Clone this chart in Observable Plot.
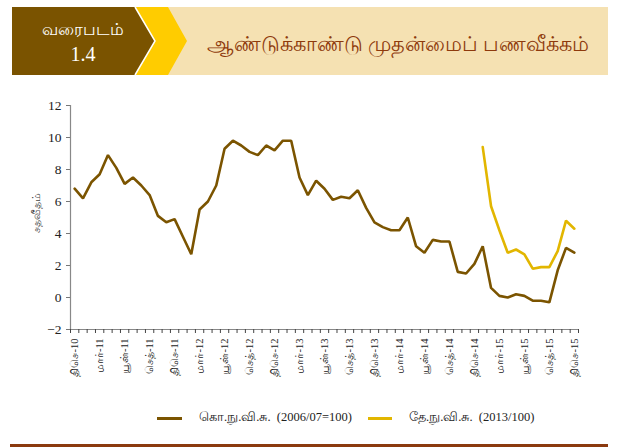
<!DOCTYPE html>
<html>
<head>
<meta charset="utf-8">
<script src="https://cdn.jsdelivr.net/npm/d3@7"></script>
<script src="https://cdn.jsdelivr.net/npm/@observablehq/plot@0.6"></script>
<style>
  html, body { margin: 0; padding: 0; background: #fff; }
  body { width: 628px; height: 448px; position: relative; overflow: hidden; font-family: "Liberation Serif", "DejaVu Serif", serif; }
  #header { position: absolute; left: 0; top: 0; }
  #chart { position: absolute; left: 0; top: 90px; }
  #chart svg { font-family: "Liberation Serif", serif; }
  .legend { position: absolute; top: 410px; font-size: 12.5px; color: #222; white-space: nowrap; }
  .swatch { position: absolute; top: 417px; height: 3px; }
  #rule { position: absolute; left: 10px; top: 444px; width: 598px; height: 3px; background: #8B3A0F; }
</style>
</head>
<body>
<svg id="header" width="628" height="85">
  <rect x="12" y="7" width="596" height="68" fill="#F5E1B2"></rect>
  <polygon points="135,7 168,7 187,41 168,75 135,75 155,41" fill="#FFCC00"></polygon>
  <polygon points="12,7 135,7 155,41 135,75 12,75" fill="#7A5300"></polygon>
  <polyline points="135,7 155,41 135,75" fill="none" stroke="#fff" stroke-width="1.5"></polyline>
  <text x="83" y="35" text-anchor="middle" fill="#fff" font-size="17" font-family="Liberation Serif, serif">வரைபடம்</text>
  <text x="83" y="61" text-anchor="middle" fill="#fff" font-size="20" font-family="Liberation Serif, serif">1.4</text>
  <text x="398" y="51" text-anchor="middle" fill="#8E3A0C" font-size="20.5" font-family="Liberation Serif, serif">ஆண்டுக்காண்டு முதன்மைப் பணவீக்கம்</text>
</svg>
<div id="chart"></div>
<div class="swatch" style="left:157px;width:25px;background:#7B5400"></div>
<div class="legend" style="left:199px">கொ.நு.வி.சு.&nbsp; (2006/07=100)</div>
<div class="swatch" style="left:368px;width:24px;background:#E2B600"></div>
<div class="legend" style="left:409px">தே.நு.வி.சு.&nbsp; (2013/100)</div>
<div id="rule"></div>
<script>
// Monthly, Dec-2010 .. Dec-2015 (61 months)
const tickLabels = ["திசெ-10","மார்-11","யூன்-11","செத்-11","திசெ-11","மார்-12","யூன்-12","செத்-12","திசெ-12","மார்-13","யூன்-13","செத்-13","திசெ-13","மார்-14","யூன்-14","செத்-14","திசெ-14","மார்-15","யூன்-15","செத்-15","திசெ-15"];
const ccpi = [6.8,6.2,7.2,7.7,8.9,8.1,7.1,7.5,7.0,6.4,5.1,4.7,4.9,3.8,2.7,5.5,6.0,7.0,9.3,9.8,9.5,9.1,8.9,9.5,9.2,9.8,9.8,7.5,6.4,7.3,6.8,6.1,6.3,6.2,6.7,5.6,4.7,4.4,4.2,4.2,5.0,3.2,2.8,3.6,3.5,3.5,1.6,1.5,2.1,3.2,0.6,0.1,0.0,0.2,0.1,-0.2,-0.2,-0.3,1.7,3.1,2.8];
const ncpiStart = 49; // Jan-2015
const ncpi = [9.4,5.7,4.2,2.8,3.0,2.7,1.8,1.9,1.9,2.9,4.8,4.3];
const yTicks = [-2,0,2,4,6,8,10,12];
const yTitle = "சதவீதம்";
const seriesNames = ["கொ.நு.வி.சு. (2006/07=100)", "தே.நு.வி.சு. (2013/100)"];

const ccpiData = ccpi.map((v, i) => ({i, v}));
const ncpiData = ncpi.map((v, k) => ({i: ncpiStart + k, v}));
const n = ccpi.length;
const labelIdx = tickLabels.map((_, k) => k * 3);
const bounds = d3.range(n + 1).map(i => i - 0.5);

const chart = Plot.plot({
  width: 628,
  height: 300,
  marginTop: 15,
  marginBottom: 61,
  marginLeft: 70,
  marginRight: 50,
  style: {fontFamily: "Liberation Serif, serif", fontSize: "13px", color: "#222", background: "transparent"},
  x: {type: "linear", domain: [-0.5, n - 0.5]},
  y: {domain: [-2, 12]},
  marks: [
    Plot.axisY({ticks: yTicks, tickSize: 4, tickPadding: 5, label: null, stroke: "#777", fontSize: 13.5}),
    Plot.ruleX([-0.5], {stroke: "#888", strokeWidth: 1.2}),
    Plot.ruleY([-2], {stroke: "#888", strokeWidth: 1.2}),
    Plot.axisX({ticks: bounds, tickSize: 4, tickFormat: () => "", label: null, stroke: "#444"}),
    Plot.axisX({ticks: labelIdx, tickSize: 0, tickPadding: 9, tickRotate: -90, tickFormat: i => tickLabels[i / 3], label: null, fontSize: 10.5}),
    Plot.text([yTitle], {frameAnchor: "left", dx: -34, dy: 15, rotate: -90, fontSize: 11, fill: "#444"}),
    Plot.line(ccpiData, {x: "i", y: "v", stroke: "#7B5400", strokeWidth: 2.6, strokeLinejoin: "miter"}),
    Plot.line(ncpiData, {x: "i", y: "v", stroke: "#E2B600", strokeWidth: 2.6, strokeLinejoin: "miter"})
  ]
});
document.getElementById("chart").appendChild(chart);
</script>
</body>
</html>
